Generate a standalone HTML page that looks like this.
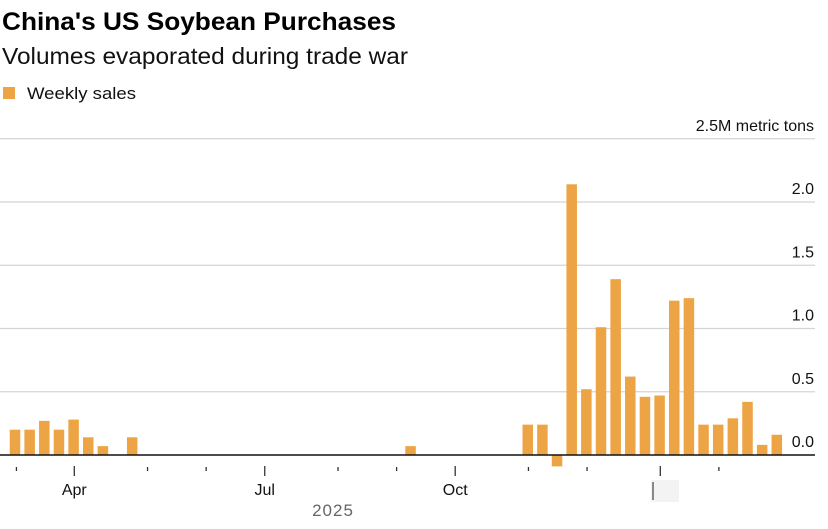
<!DOCTYPE html>
<html><head><meta charset="utf-8"><style>
html,body{margin:0;padding:0;background:#fff;}
svg{display:block;font-family:"Liberation Sans",Arial,sans-serif;}
</style></head><body>
<svg id="chart" width="828" height="529" viewBox="0 0 828 529" xmlns="http://www.w3.org/2000/svg">
<text x="2" y="30" font-size="25" font-weight="bold" fill="#000" textLength="394" lengthAdjust="spacingAndGlyphs">China's US Soybean Purchases</text>
<text x="2" y="64" font-size="23" fill="#111" textLength="406" lengthAdjust="spacingAndGlyphs">Volumes evaporated during trade war</text>
<rect x="3" y="87" width="12" height="12" fill="#eca444"/>
<text x="27" y="99" font-size="17" fill="#111" textLength="109" lengthAdjust="spacingAndGlyphs">Weekly sales</text>
<g id="grid"></g>
<g id="bars"></g>
<g id="axis"></g>
<text x="333" y="516" font-size="17" fill="#666" text-anchor="middle" letter-spacing="1">2025</text>
</svg>
<script>
const values = [0.20,0.20,0.27,0.20,0.28,0.14,0.07,0,0.14,0,0,0,0,0,0,0,0,0,0,0,0,0,0,0,0,0,0,0.07,0,0,0,0,0,0,0,0.24,0.24,-0.09,2.14,0.52,1.01,1.39,0.62,0.46,0.47,1.22,1.24,0.24,0.24,0.29,0.42,0.08,0.16];
const yTicks = [0,0.5,1.0,1.5,2.0,2.5];
const yTickLabels = ["0.0","0.5","1.0","1.5","2.0","2.5M metric tons"];
const monthWeekIdx = [0.05,4,9,13,17,22,26,30,35,39,44,48];
const monthLabels = ["","Apr","","","Jul","","","Oct","","","",""];
const majorMonths = [false,true,false,false,true,false,false,true,false,false,true,false];

const NS="http://www.w3.org/2000/svg";
const y0=455, pxPerUnit=126.5, x0=15, step=14.65, bw=10.5;
const yS=v=>y0-v*pxPerUnit;
const xS=i=>x0+i*step;
function mk(tag,attrs,parent){const e=document.createElementNS(NS,tag);for(const k in attrs)e.setAttribute(k,attrs[k]);parent.appendChild(e);return e;}
const grid=document.getElementById('grid'),bars=document.getElementById('bars'),axis=document.getElementById('axis');
yTicks.forEach((t,i)=>{
  if(t!==0){const l=mk('line',{x1:0,x2:815,y1:yS(t),y2:yS(t),stroke:'#d4d4d4','stroke-width':1.2},grid);
  
  }
  const tx=mk('text',{x:814,y:yS(t)-8,'font-size':16,fill:'#111','text-anchor':'end'},grid);
  tx.textContent=yTickLabels[i];
  
  
});
values.forEach((v,i)=>{
  if(v===0)return;
  const top=Math.min(yS(v),y0),h=Math.abs(yS(v)-y0);
  const r=mk('rect',{x:xS(i)-bw/2,y:top,width:bw,height:h,fill:'#eca444'},bars);
  
  
});
const base=mk('line',{x1:0,x2:815,y1:y0,y2:y0,stroke:'#111','stroke-width':1.5},axis);


monthWeekIdx.forEach((w,i)=>{
  const x=xS(w)+0.7, major=majorMonths[i];
  const t=mk('line',{x1:x,x2:x,y1:major?466:467,y2:major?476:471,stroke:'#333','stroke-width':1.3},axis);
  
  
  if(monthLabels[i]){const l=mk('text',{x:x,y:495,'font-size':16,fill:'#111','text-anchor':'middle'},axis);
  l.textContent=monthLabels[i];
  
  }
});
const blob=mk('rect',{x:651,y:480,width:28,height:22,fill:'#f3f3f3'},axis);


const blobLine=mk('line',{x1:653,x2:653,y1:482,y2:500,stroke:'#888','stroke-width':2},axis);


</script>
</body></html>
